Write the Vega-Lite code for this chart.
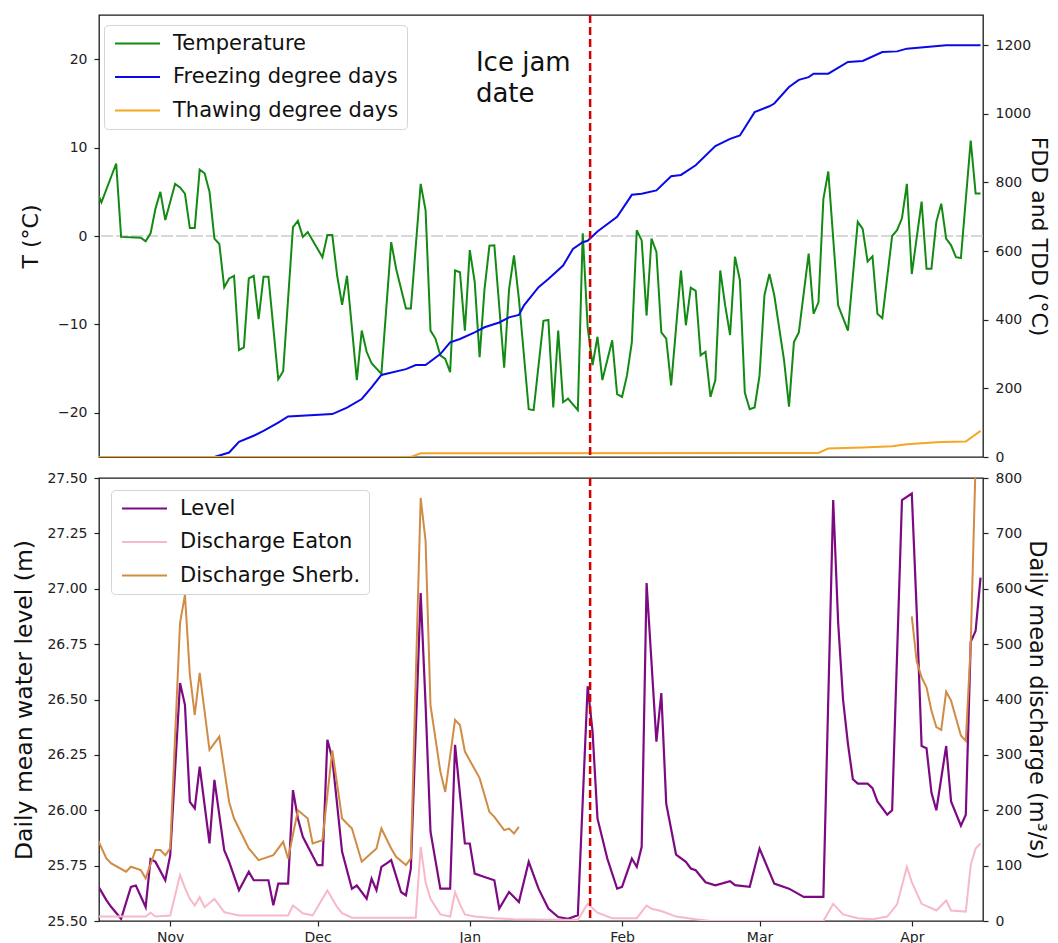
{
  "$schema": "https://vega.github.io/schema/vega-lite/v6.json",
  "padding": {"left": 11, "top": 13, "right": 0, "bottom": 0},
  "background": "white",
  "config": {
    "view": {"stroke": "#1a1a1a", "strokeWidth": 1.3},
    "font": "DejaVu Sans",
    "axis": {"labelFont": "DejaVu Sans", "titleFont": "DejaVu Sans", "labelColor": "#222222", "titleColor": "#111111", "tickColor": "#222222", "tickWidth": 1.2, "domain": false, "grid": false, "tickSize": 5, "labelPadding": 7, "labelFontSize": 14, "titleFontWeight": "normal"}
  },
  "datasets": {
    "temp": [
      {"d":"2018-10-17","v":5.1},{"d":"2018-10-18","v":3.8},{"d":"2018-10-21","v":8.2},{"d":"2018-10-22","v":-0.1},{"d":"2018-10-26","v":-0.2},{"d":"2018-10-27","v":-0.6},{"d":"2018-10-28","v":0.3},{"d":"2018-10-29","v":3.1},{"d":"2018-10-30","v":5.0},{"d":"2018-10-31","v":1.8},
      {"d":"2018-11-02","v":5.9},{"d":"2018-11-03","v":5.5},{"d":"2018-11-04","v":4.8},{"d":"2018-11-05","v":0.9},{"d":"2018-11-06","v":0.9},{"d":"2018-11-07","v":7.5},{"d":"2018-11-08","v":7.1},{"d":"2018-11-09","v":5.0},{"d":"2018-11-10","v":-0.3},{"d":"2018-11-11","v":-0.9},{"d":"2018-11-12","v":-5.8},{"d":"2018-11-13","v":-4.8},{"d":"2018-11-14","v":-4.5},{"d":"2018-11-15","v":-12.9},{"d":"2018-11-16","v":-12.6},{"d":"2018-11-17","v":-4.8},{"d":"2018-11-18","v":-4.5},{"d":"2018-11-19","v":-9.4},{"d":"2018-11-20","v":-4.6},{"d":"2018-11-21","v":-4.6},{"d":"2018-11-23","v":-16.2},{"d":"2018-11-24","v":-15.3},{"d":"2018-11-26","v":1.0},{"d":"2018-11-27","v":1.7},{"d":"2018-11-28","v":-0.1},{"d":"2018-11-29","v":0.45},
      {"d":"2018-12-02","v":-2.4},{"d":"2018-12-03","v":0.1},{"d":"2018-12-04","v":0.1},{"d":"2018-12-05","v":-4.5},{"d":"2018-12-06","v":-7.8},{"d":"2018-12-07","v":-4.5},{"d":"2018-12-09","v":-16.3},{"d":"2018-12-10","v":-10.7},{"d":"2018-12-11","v":-13.1},{"d":"2018-12-12","v":-14.4},{"d":"2018-12-14","v":-15.6},{"d":"2018-12-16","v":-0.7},{"d":"2018-12-17","v":-3.7},{"d":"2018-12-19","v":-8.2},{"d":"2018-12-20","v":-8.2},{"d":"2018-12-22","v":5.9},{"d":"2018-12-23","v":2.9},{"d":"2018-12-24","v":-10.7},{"d":"2018-12-25","v":-11.6},{"d":"2018-12-26","v":-13.5},{"d":"2018-12-27","v":-13.9},{"d":"2018-12-28","v":-15.4},{"d":"2018-12-29","v":-3.9},{"d":"2018-12-30","v":-4.1},{"d":"2018-12-31","v":-10.7},
      {"d":"2019-01-01","v":-1.6},{"d":"2019-01-02","v":-5.2},{"d":"2019-01-03","v":-13.7},{"d":"2019-01-04","v":-6.0},{"d":"2019-01-05","v":-1.1},{"d":"2019-01-06","v":-1.05},{"d":"2019-01-08","v":-14.9},{"d":"2019-01-09","v":-6.0},{"d":"2019-01-10","v":-2.2},{"d":"2019-01-11","v":-7.1},{"d":"2019-01-13","v":-19.6},{"d":"2019-01-14","v":-19.7},{"d":"2019-01-16","v":-9.6},{"d":"2019-01-17","v":-9.5},{"d":"2019-01-18","v":-19.4},{"d":"2019-01-19","v":-10.7},{"d":"2019-01-20","v":-18.8},{"d":"2019-01-21","v":-18.4},{"d":"2019-01-23","v":-19.7},{"d":"2019-01-24","v":0.3},{"d":"2019-01-25","v":-10.3},{"d":"2019-01-26","v":-14.6},{"d":"2019-01-27","v":-11.4},{"d":"2019-01-28","v":-16.3},{"d":"2019-01-30","v":-11.8},{"d":"2019-01-31","v":-17.9},
      {"d":"2019-02-01","v":-18.2},{"d":"2019-02-02","v":-15.8},{"d":"2019-02-03","v":-12.0},{"d":"2019-02-04","v":0.65},{"d":"2019-02-05","v":-0.5},{"d":"2019-02-06","v":-9.0},{"d":"2019-02-07","v":-0.3},{"d":"2019-02-08","v":-1.8},{"d":"2019-02-09","v":-10.9},{"d":"2019-02-10","v":-11.6},{"d":"2019-02-11","v":-16.9},{"d":"2019-02-13","v":-3.9},{"d":"2019-02-14","v":-10.1},{"d":"2019-02-15","v":-5.85},{"d":"2019-02-16","v":-6.2},{"d":"2019-02-17","v":-13.5},{"d":"2019-02-18","v":-13.1},{"d":"2019-02-19","v":-18.2},{"d":"2019-02-20","v":-16.3},{"d":"2019-02-21","v":-3.9},{"d":"2019-02-22","v":-7.85},{"d":"2019-02-23","v":-11.2},{"d":"2019-02-24","v":-2.35},{"d":"2019-02-25","v":-5.0},{"d":"2019-02-26","v":-17.7},{"d":"2019-02-27","v":-19.6},{"d":"2019-02-28","v":-19.4},
      {"d":"2019-03-01","v":-15.8},{"d":"2019-03-02","v":-6.7},{"d":"2019-03-03","v":-4.3},{"d":"2019-03-04","v":-6.7},{"d":"2019-03-06","v":-14.1},{"d":"2019-03-07","v":-19.3},{"d":"2019-03-08","v":-12.0},{"d":"2019-03-09","v":-10.9},{"d":"2019-03-11","v":-2.0},{"d":"2019-03-12","v":-8.8},{"d":"2019-03-13","v":-7.5},{"d":"2019-03-14","v":4.2},{"d":"2019-03-15","v":7.3},{"d":"2019-03-17","v":-7.85},{"d":"2019-03-19","v":-10.7},{"d":"2019-03-21","v":1.6},{"d":"2019-03-22","v":0.8},{"d":"2019-03-23","v":-2.9},{"d":"2019-03-24","v":-2.3},{"d":"2019-03-25","v":-8.8},{"d":"2019-03-26","v":-9.3},{"d":"2019-03-28","v":0.0},{"d":"2019-03-29","v":0.65},{"d":"2019-03-30","v":2.0},{"d":"2019-03-31","v":5.9},
      {"d":"2019-04-01","v":-4.3},{"d":"2019-04-03","v":3.9},{"d":"2019-04-04","v":-3.7},{"d":"2019-04-05","v":-3.7},{"d":"2019-04-06","v":1.6},{"d":"2019-04-07","v":3.65},{"d":"2019-04-08","v":-0.3},{"d":"2019-04-09","v":-1.05},{"d":"2019-04-10","v":-2.4},{"d":"2019-04-11","v":-2.5},{"d":"2019-04-13","v":10.8},{"d":"2019-04-14","v":4.8},{"d":"2019-04-15","v":4.8}
    ],
    "fdd": [
      {"d":"2018-10-17","v":0},{"d":"2018-11-10","v":0},{"d":"2018-11-13","v":13},{"d":"2018-11-15","v":44},{"d":"2018-11-18","v":62},{"d":"2018-11-20","v":76},{"d":"2018-11-23","v":100},{"d":"2018-11-25","v":118},{"d":"2018-12-04","v":125},{"d":"2018-12-07","v":144},{"d":"2018-12-10","v":169},{"d":"2018-12-12","v":203},{"d":"2018-12-14","v":239},{"d":"2018-12-19","v":256},{"d":"2018-12-21","v":268},{"d":"2018-12-23","v":268},{"d":"2018-12-26","v":300},{"d":"2018-12-28","v":334},{"d":"2018-12-30","v":344},
      {"d":"2019-01-02","v":363},{"d":"2019-01-04","v":378},{"d":"2019-01-07","v":392},{"d":"2019-01-09","v":407},{"d":"2019-01-11","v":414},{"d":"2019-01-12","v":441},{"d":"2019-01-15","v":495},{"d":"2019-01-17","v":519},{"d":"2019-01-20","v":558},{"d":"2019-01-22","v":606},{"d":"2019-01-24","v":626},{"d":"2019-01-25","v":630},{"d":"2019-01-27","v":657},{"d":"2019-01-31","v":700},
      {"d":"2019-02-03","v":764},{"d":"2019-02-05","v":767},{"d":"2019-02-08","v":777},{"d":"2019-02-11","v":818},{"d":"2019-02-13","v":822},{"d":"2019-02-16","v":850},{"d":"2019-02-20","v":906},{"d":"2019-02-23","v":927},{"d":"2019-02-25","v":937},{"d":"2019-02-28","v":1005},
      {"d":"2019-03-03","v":1022},{"d":"2019-03-04","v":1030},{"d":"2019-03-07","v":1078},{"d":"2019-03-09","v":1099},{"d":"2019-03-11","v":1107},{"d":"2019-03-12","v":1117},{"d":"2019-03-15","v":1117},{"d":"2019-03-19","v":1151},{"d":"2019-03-22","v":1154},{"d":"2019-03-26","v":1180},{"d":"2019-03-29","v":1182},{"d":"2019-03-31","v":1190},
      {"d":"2019-04-04","v":1195},{"d":"2019-04-08","v":1200},{"d":"2019-04-15","v":1200}
    ],
    "tdd": [
      {"d":"2018-10-17","v":0},{"d":"2018-12-20","v":0},{"d":"2018-12-22","v":11},{"d":"2019-03-13","v":12},{"d":"2019-03-15","v":25},{"d":"2019-03-22","v":28},{"d":"2019-03-28","v":31},{"d":"2019-03-31","v":37},{"d":"2019-04-03","v":40},{"d":"2019-04-07","v":44},{"d":"2019-04-12","v":45},{"d":"2019-04-15","v":76}
    ],
    "level": [
      {"d":"2018-10-17","v":25.67},{"d":"2018-10-19","v":25.594},{"d":"2018-10-20","v":25.563},{"d":"2018-10-22","v":25.51},{"d":"2018-10-24","v":25.654},{"d":"2018-10-25","v":25.66},{"d":"2018-10-27","v":25.563},{"d":"2018-10-28","v":25.78},{"d":"2018-10-29","v":25.767},{"d":"2018-10-31","v":25.684},
      {"d":"2018-11-01","v":25.797},{"d":"2018-11-03","v":26.574},{"d":"2018-11-04","v":26.476},{"d":"2018-11-05","v":26.038},{"d":"2018-11-06","v":26.008},{"d":"2018-11-07","v":26.197},{"d":"2018-11-09","v":25.85},{"d":"2018-11-10","v":26.137},{"d":"2018-11-12","v":25.82},{"d":"2018-11-13","v":25.767},{"d":"2018-11-15","v":25.639},{"d":"2018-11-17","v":25.722},{"d":"2018-11-18","v":25.684},{"d":"2018-11-21","v":25.684},{"d":"2018-11-22","v":25.571},{"d":"2018-11-23","v":25.669},{"d":"2018-11-25","v":25.669},{"d":"2018-11-26","v":26.091},{"d":"2018-11-27","v":25.963},{"d":"2018-11-28","v":25.88},
      {"d":"2018-12-01","v":25.752},{"d":"2018-12-02","v":25.752},{"d":"2018-12-03","v":26.318},{"d":"2018-12-04","v":26.234},{"d":"2018-12-06","v":25.812},{"d":"2018-12-08","v":25.646},{"d":"2018-12-09","v":25.66},{"d":"2018-12-11","v":25.601},{"d":"2018-12-12","v":25.691},{"d":"2018-12-13","v":25.639},{"d":"2018-12-14","v":25.744},{"d":"2018-12-15","v":25.759},{"d":"2018-12-16","v":25.775},{"d":"2018-12-18","v":25.631},{"d":"2018-12-19","v":25.616},{"d":"2018-12-20","v":25.737},{"d":"2018-12-22","v":26.981},{"d":"2018-12-23","v":26.476},{"d":"2018-12-24","v":25.903},{"d":"2018-12-26","v":25.646},{"d":"2018-12-28","v":25.646},{"d":"2018-12-29","v":26.295},{"d":"2018-12-31","v":25.85},
      {"d":"2019-01-01","v":25.85},{"d":"2019-01-02","v":25.714},{"d":"2019-01-04","v":25.699},{"d":"2019-01-06","v":25.684},{"d":"2019-01-07","v":25.556},{"d":"2019-01-09","v":25.631},{"d":"2019-01-11","v":25.586},{"d":"2019-01-13","v":25.767},{"d":"2019-01-15","v":25.646},{"d":"2019-01-17","v":25.556},{"d":"2019-01-19","v":25.518},{"d":"2019-01-21","v":25.51},{"d":"2019-01-23","v":25.526},{"d":"2019-01-25","v":26.56},{"d":"2019-01-26","v":26.355},{"d":"2019-01-27","v":25.963},{"d":"2019-01-29","v":25.782},{"d":"2019-01-31","v":25.646},
      {"d":"2019-02-01","v":25.654},{"d":"2019-02-03","v":25.782},{"d":"2019-02-04","v":25.744},{"d":"2019-02-05","v":25.835},{"d":"2019-02-06","v":27.026},{"d":"2019-02-08","v":26.31},{"d":"2019-02-09","v":26.529},{"d":"2019-02-10","v":26.03},{"d":"2019-02-12","v":25.8},{"d":"2019-02-14","v":25.767},{"d":"2019-02-15","v":25.737},{"d":"2019-02-16","v":25.729},{"d":"2019-02-18","v":25.675},{"d":"2019-02-20","v":25.661},{"d":"2019-02-23","v":25.68},{"d":"2019-02-24","v":25.662},{"d":"2019-02-27","v":25.654},
      {"d":"2019-03-01","v":25.827},{"d":"2019-03-04","v":25.669},{"d":"2019-03-07","v":25.646},{"d":"2019-03-10","v":25.609},{"d":"2019-03-14","v":25.609},{"d":"2019-03-16","v":27.4},{"d":"2019-03-17","v":26.85},{"d":"2019-03-18","v":26.5},{"d":"2019-03-19","v":26.3},{"d":"2019-03-20","v":26.14},{"d":"2019-03-21","v":26.12},{"d":"2019-03-23","v":26.12},{"d":"2019-03-24","v":26.1},{"d":"2019-03-25","v":26.04},{"d":"2019-03-27","v":25.98},{"d":"2019-03-28","v":26.0},{"d":"2019-03-30","v":27.4},
      {"d":"2019-04-01","v":27.43},{"d":"2019-04-02","v":26.9},{"d":"2019-04-03","v":26.29},{"d":"2019-04-04","v":26.28},{"d":"2019-04-05","v":26.08},{"d":"2019-04-06","v":26.0},{"d":"2019-04-08","v":26.29},{"d":"2019-04-09","v":26.04},{"d":"2019-04-11","v":25.93},{"d":"2019-04-12","v":25.98},{"d":"2019-04-13","v":26.76},{"d":"2019-04-14","v":26.81},{"d":"2019-04-15","v":27.05}
    ],
    "eaton": [
      {"d":"2018-10-17","v":8},{"d":"2018-10-27","v":8},{"d":"2018-10-28","v":15},{"d":"2018-10-29","v":8},{"d":"2018-11-01","v":10},{"d":"2018-11-03","v":83},{"d":"2018-11-04","v":60},{"d":"2018-11-05","v":40},{"d":"2018-11-06","v":28},{"d":"2018-11-07","v":43},{"d":"2018-11-08","v":25},{"d":"2018-11-10","v":40},{"d":"2018-11-12","v":16},{"d":"2018-11-15","v":10},{"d":"2018-11-25","v":10},{"d":"2018-11-26","v":28},{"d":"2018-11-28","v":14},{"d":"2018-11-30","v":10},
      {"d":"2018-12-03","v":55},{"d":"2018-12-05","v":25},{"d":"2018-12-06","v":14},{"d":"2018-12-08","v":6},{"d":"2018-12-21","v":6},{"d":"2018-12-22","v":134},{"d":"2018-12-23","v":70},{"d":"2018-12-24","v":40},{"d":"2018-12-26","v":12},{"d":"2018-12-28","v":8},{"d":"2018-12-29","v":52},{"d":"2018-12-30","v":30},{"d":"2018-12-31","v":12},
      {"d":"2019-01-02","v":8},{"d":"2019-01-06","v":5},{"d":"2019-01-10","v":3},{"d":"2019-01-23","v":2},{"d":"2019-01-25","v":31},{"d":"2019-01-27","v":15},{"d":"2019-01-30","v":5},{"d":"2019-02-04","v":5},{"d":"2019-02-06","v":28},{"d":"2019-02-07","v":22},{"d":"2019-02-09","v":18},{"d":"2019-02-12","v":8},{"d":"2019-02-16","v":3},{"d":"2019-02-19","v":0},
      {"d":"2019-03-14","v":0},{"d":"2019-03-16","v":31},{"d":"2019-03-18","v":12},{"d":"2019-03-21","v":5},{"d":"2019-03-24","v":3},{"d":"2019-03-27","v":8},{"d":"2019-03-29","v":30},{"d":"2019-03-31","v":98},{"d":"2019-04-01","v":70},{"d":"2019-04-03","v":31},{"d":"2019-04-06","v":19},{"d":"2019-04-08","v":37},{"d":"2019-04-09","v":19},{"d":"2019-04-12","v":17},{"d":"2019-04-13","v":101},{"d":"2019-04-14","v":131},{"d":"2019-04-15","v":140}
    ],
    "sherb": [
      {"d":"2018-10-17","v":152,"g":"a"},{"d":"2018-10-19","v":113,"g":"a"},{"d":"2018-10-20","v":104,"g":"a"},{"d":"2018-10-23","v":89,"g":"a"},{"d":"2018-10-24","v":98,"g":"a"},{"d":"2018-10-26","v":92,"g":"a"},{"d":"2018-10-27","v":77,"g":"a"},{"d":"2018-10-29","v":128,"g":"a"},{"d":"2018-10-30","v":128,"g":"a"},{"d":"2018-10-31","v":119,"g":"a"},
      {"d":"2018-11-01","v":131,"g":"a"},{"d":"2018-11-03","v":538,"g":"a"},{"d":"2018-11-04","v":589,"g":"a"},{"d":"2018-11-05","v":445,"g":"a"},{"d":"2018-11-06","v":372,"g":"a"},{"d":"2018-11-07","v":448,"g":"a"},{"d":"2018-11-09","v":309,"g":"a"},{"d":"2018-11-11","v":333,"g":"a"},{"d":"2018-11-13","v":215,"g":"a"},{"d":"2018-11-14","v":185,"g":"a"},{"d":"2018-11-17","v":131,"g":"a"},{"d":"2018-11-19","v":110,"g":"a"},{"d":"2018-11-22","v":119,"g":"a"},{"d":"2018-11-24","v":143,"g":"a"},{"d":"2018-11-25","v":113,"g":"a"},{"d":"2018-11-27","v":200,"g":"a"},{"d":"2018-11-29","v":185,"g":"a"},{"d":"2018-11-30","v":140,"g":"a"},
      {"d":"2018-12-02","v":146,"g":"a"},{"d":"2018-12-04","v":308,"g":"a"},{"d":"2018-12-06","v":185,"g":"a"},{"d":"2018-12-08","v":167,"g":"a"},{"d":"2018-12-10","v":107,"g":"a"},{"d":"2018-12-13","v":131,"g":"a"},{"d":"2018-12-14","v":167,"g":"a"},{"d":"2018-12-15","v":149,"g":"a"},{"d":"2018-12-16","v":131,"g":"a"},{"d":"2018-12-17","v":116,"g":"a"},{"d":"2018-12-19","v":101,"g":"a"},{"d":"2018-12-20","v":113,"g":"a"},{"d":"2018-12-22","v":764,"g":"a"},{"d":"2018-12-23","v":686,"g":"a"},{"d":"2018-12-24","v":390,"g":"a"},{"d":"2018-12-26","v":270,"g":"a"},{"d":"2018-12-27","v":233,"g":"a"},{"d":"2018-12-29","v":363,"g":"a"},{"d":"2018-12-30","v":354,"g":"a"},{"d":"2018-12-31","v":306,"g":"a"},
      {"d":"2019-01-03","v":258,"g":"a"},{"d":"2019-01-05","v":197,"g":"a"},{"d":"2019-01-06","v":188,"g":"a"},{"d":"2019-01-08","v":164,"g":"a"},{"d":"2019-01-09","v":167,"g":"a"},{"d":"2019-01-10","v":158,"g":"a"},{"d":"2019-01-11","v":170,"g":"a"},
      {"d":"2019-04-01","v":550,"g":"b"},{"d":"2019-04-02","v":469,"g":"b"},{"d":"2019-04-03","v":440,"g":"b"},{"d":"2019-04-04","v":422,"g":"b"},{"d":"2019-04-05","v":380,"g":"b"},{"d":"2019-04-06","v":350,"g":"b"},{"d":"2019-04-07","v":345,"g":"b"},{"d":"2019-04-08","v":414,"g":"b"},{"d":"2019-04-09","v":398,"g":"b"},{"d":"2019-04-11","v":335,"g":"b"},{"d":"2019-04-12","v":325,"g":"b"},{"d":"2019-04-13","v":499,"g":"b"},{"d":"2019-04-14","v":830,"g":"b"}
    ],
    "icejam": [{"d":"2019-01-25T12:00:00Z"}]
  },
  "spacing": 21,
  "bounds": "flush",
  "resolve": {"scale": {"color": "independent"}, "legend": {"color": "independent"}},
  "vconcat": [
    {
      "width": 884,
      "height": 442,
      "layer": [
        {
          "data": {"values": [{}]},
          "mark": {"type": "rule", "color": "#cccccc", "strokeWidth": 1.5, "strokeDash": [12, 3]},
          "encoding": {"y": {"datum": 0, "type": "quantitative", "scale": {"domain": [-25, 25], "nice": false, "zero": false}, "axis": null}}
        },
        {
          "data": {"name": "temp"},
          "mark": {"type": "line", "strokeWidth": 2, "clip": true},
          "encoding": {
            "x": {"field": "d", "type": "temporal", "scale": {"type": "utc", "domain": [{"year": 2018, "month": 10, "date": 17, "hours": 12, "utc": true}, {"year": 2019, "month": 4, "date": 15, "hours": 12, "utc": true}]}, "axis": null},
            "y": {"field": "v", "type": "quantitative", "scale": {"domain": [-25, 25], "nice": false, "zero": false}, "axis": {"orient": "left", "values": [-20, -10, 0, 10, 20], "title": "T (°C)", "titleFontSize": 22, "minExtent": 45, "maxExtent": 45, "titlePadding": 12}},
            "color": {"datum": "Temperature", "type": "nominal", "scale": {"domain": ["Temperature", "Freezing degree days", "Thawing degree days"], "range": ["#138a13", "#0a0ae6", "#f5a623"]},
              "legend": {"title": null, "orient": "none", "legendX": 5, "legendY": 10, "symbolType": "M-1,0H5", "symbolSize": 225, "symbolStrokeWidth": 2.2, "labelFontSize": 21, "labelFont": "DejaVu Sans", "labelColor": "#111111", "labelOffset": 40, "rowPadding": 11.5, "padding": 8, "fillColor": "rgba(255,255,255,0.85)", "strokeColor": "#d5d5d5", "cornerRadius": 4, "labelLimit": 400}}
          }
        },
        {
          "data": {"name": "fdd"},
          "mark": {"type": "line", "strokeWidth": 2, "clip": true},
          "encoding": {
            "x": {"field": "d", "type": "temporal", "axis": null},
            "y": {"field": "v", "type": "quantitative", "scale": {"domain": [0, 1288], "nice": false, "zero": false}, "axis": {"orient": "right", "values": [0, 200, 400, 600, 800, 1000, 1200], "format": "d", "title": "FDD and TDD (°C)", "titleFontSize": 22, "minExtent": 43, "maxExtent": 43, "titlePadding": 0}},
            "color": {"datum": "Freezing degree days", "type": "nominal"}
          }
        },
        {
          "data": {"name": "tdd"},
          "mark": {"type": "line", "strokeWidth": 2, "clip": true},
          "encoding": {
            "x": {"field": "d", "type": "temporal", "axis": null},
            "y": {"field": "v", "type": "quantitative", "scale": {"domain": [0, 1288], "nice": false, "zero": false}, "axis": null},
            "color": {"datum": "Thawing degree days", "type": "nominal"}
          }
        },
        {
          "data": {"name": "icejam"},
          "mark": {"type": "rule", "color": "#d40000", "strokeWidth": 2.5, "strokeDash": [8, 4]},
          "encoding": {"x": {"field": "d", "type": "temporal", "axis": null}}
        },
        {
          "data": {"values": [{}]},
          "mark": {"type": "text", "align": "left", "baseline": "alphabetic", "font": "DejaVu Sans", "fontSize": 26, "color": "#111111", "lineHeight": 31},
          "encoding": {
            "x": {"datum": {"year": 2019, "month": 1, "date": 2, "hours": 6, "utc": true}, "type": "temporal", "axis": null},
            "y": {"datum": 18.7, "type": "quantitative", "scale": {"domain": [-25, 25], "nice": false, "zero": false}, "axis": null},
            "text": {"value": ["Ice jam", "date"]}
          }
        }
      ],
      "resolve": {"scale": {"y": "independent"}}
    },
    {
      "width": 884,
      "height": 443,
      "layer": [
        {
          "data": {"name": "level"},
          "mark": {"type": "line", "strokeWidth": 2.2, "clip": true},
          "encoding": {
            "x": {"field": "d", "type": "temporal", "scale": {"type": "utc", "domain": [{"year": 2018, "month": 10, "date": 17, "hours": 12, "utc": true}, {"year": 2019, "month": 4, "date": 15, "hours": 12, "utc": true}]},
              "axis": {"title": null, "format": "%b", "values": [{"year": 2018, "month": 11, "date": 1, "utc": true}, {"year": 2018, "month": 12, "date": 1, "utc": true}, {"year": 2019, "month": 1, "date": 1, "utc": true}, {"year": 2019, "month": 2, "date": 1, "utc": true}, {"year": 2019, "month": 3, "date": 1, "utc": true}, {"year": 2019, "month": 4, "date": 1, "utc": true}], "labelPadding": 4}},
            "y": {"field": "v", "type": "quantitative", "scale": {"domain": [25.5, 27.5], "nice": false, "zero": false}, "axis": {"orient": "left", "values": [25.5, 25.75, 26.0, 26.25, 26.5, 26.75, 27.0, 27.25, 27.5], "format": ".2f", "title": "Daily mean water level (m)", "titleFontSize": 23.5, "minExtent": 51, "maxExtent": 51, "titlePadding": 12}},
            "color": {"datum": "Level", "type": "nominal", "scale": {"domain": ["Level", "Discharge Eaton", "Discharge Sherb."], "range": ["#7d0a82", "#f7b8c8", "#d18b45"]},
              "legend": {"title": null, "orient": "none", "legendX": 12, "legendY": 12, "symbolType": "M-1,0H5", "symbolSize": 225, "symbolStrokeWidth": 2.2, "labelFontSize": 21, "labelFont": "DejaVu Sans", "labelColor": "#111111", "labelOffset": 40, "rowPadding": 11.5, "padding": 8, "fillColor": "rgba(255,255,255,0.85)", "strokeColor": "#d5d5d5", "cornerRadius": 4, "labelLimit": 400}}
          }
        },
        {
          "data": {"name": "eaton"},
          "mark": {"type": "line", "strokeWidth": 2, "clip": true},
          "encoding": {
            "x": {"field": "d", "type": "temporal"},
            "y": {"field": "v", "type": "quantitative", "scale": {"domain": [0, 800], "nice": false, "zero": false}, "axis": {"orient": "right", "values": [0, 100, 200, 300, 400, 500, 600, 700, 800], "format": "d", "title": "Daily mean discharge (m³/s)", "titleFontSize": 22.5, "minExtent": 41, "maxExtent": 41, "titlePadding": 0}},
            "color": {"datum": "Discharge Eaton", "type": "nominal"}
          }
        },
        {
          "data": {"name": "sherb"},
          "mark": {"type": "line", "strokeWidth": 2, "clip": true},
          "encoding": {
            "x": {"field": "d", "type": "temporal"},
            "y": {"field": "v", "type": "quantitative", "scale": {"domain": [0, 800], "nice": false, "zero": false}, "axis": null},
            "detail": {"field": "g", "type": "nominal"},
            "color": {"datum": "Discharge Sherb.", "type": "nominal"}
          }
        },
        {
          "data": {"name": "icejam"},
          "mark": {"type": "rule", "color": "#d40000", "strokeWidth": 2.5, "strokeDash": [8, 4]},
          "encoding": {"x": {"field": "d", "type": "temporal"}}
        }
      ],
      "resolve": {"scale": {"y": "independent"}}
    }
  ]
}
